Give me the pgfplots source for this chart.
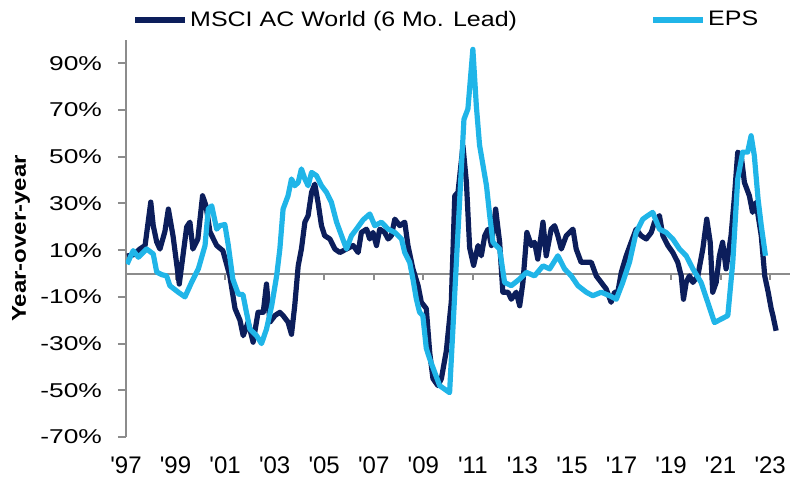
\documentclass[border=0pt]{standalone}
\usepackage{fontspec}
\setmainfont{Liberation Sans}
\newfontfamily\tickfont{Liberation Sans}[FakeStretch=1.32]
\newfontfamily\labelfont{Liberation Sans}[FakeStretch=1.2]
\newfontfamily\legfont{Liberation Sans}[FakeStretch=1.19]
\usepackage{pgfplots}
\usepackage{pgfplotstable}
\pgfplotsset{compat=1.18}

\definecolor{msciblue}{HTML}{0C1E5B}
\definecolor{epsblue}{HTML}{20B5E8}
\definecolor{axisgray}{HTML}{8C8C8C}

% MSCI AC World, year-over-year change, shifted six months ahead
\pgfplotstableread{
year value
1997.04 7.5
1997.29 8
1997.56 10.5
1997.77 12
1998.00 30.6
1998.10 20.5
1998.24 13.5
1998.37 10.5
1998.57 18
1998.71 27.6
1998.90 16
1999.15 -4.5
1999.45 20
1999.58 22
1999.70 10.5
1999.90 14.8
2000.09 33.3
2000.23 29
2000.39 17.8
2000.66 12
2000.91 9.8
2001.19 -1
2001.40 -15
2001.60 -20
2001.73 -26.6
2001.93 -20.8
2002.13 -29.4
2002.33 -16.6
2002.54 -16.6
2002.67 -4.5
2002.81 -20.8
2003.01 -18
2003.21 -16.6
2003.34 -18
2003.54 -20.8
2003.68 -26
2003.81 -13.8
2003.95 3.3
2004.08 10.5
2004.22 22
2004.35 24.8
2004.49 34.8
2004.62 38.3
2004.75 30.5
2004.89 20.5
2005.02 16.2
2005.23 14.8
2005.43 10.5
2005.63 9
2005.90 10.5
2006.17 12
2006.37 9
2006.50 17.6
2006.71 19
2006.84 14.8
2006.97 17.6
2007.11 12
2007.24 19
2007.44 17.6
2007.58 14.8
2007.71 16.2
2007.85 23.3
2008.05 20.5
2008.25 22
2008.38 12
2008.58 2
2008.79 -5.2
2008.92 -12.3
2009.12 -15
2009.26 -34
2009.39 -45
2009.59 -48
2009.73 -45
2009.93 -33
2010.13 -12
2010.27 33.3
2010.40 34.8
2010.60 54.7
2010.74 39
2010.87 11
2011.03 3.5
2011.21 12
2011.34 7.6
2011.48 16.2
2011.61 19
2011.75 12
2011.92 27.6
2012.08 13.4
2012.21 -8
2012.42 -8
2012.55 -11
2012.75 -8
2012.89 -13.8
2013.02 -3.8
2013.18 17.6
2013.36 12
2013.49 13.4
2013.62 6.2
2013.83 22
2013.96 7.6
2014.16 19
2014.30 20.5
2014.43 16.2
2014.57 10.5
2014.77 16.2
2015.04 19
2015.17 10.5
2015.37 4.8
2015.58 4.8
2015.78 4.8
2015.98 -1
2016.18 -3.8
2016.38 -6.6
2016.58 -12.3
2016.72 -8
2016.85 -8
2016.99 0.5
2017.19 7.6
2017.39 13.4
2017.59 19
2017.79 16.2
2018.00 14.8
2018.20 17.6
2018.33 22
2018.53 24.8
2018.67 16.2
2018.87 12
2019.07 9
2019.27 4.8
2019.41 -1
2019.50 -11
2019.61 -3.8
2019.74 -1
2019.88 -3.8
2020.08 -1
2020.28 10.5
2020.44 23.3
2020.58 13.4
2020.68 -8
2020.82 -3.8
2020.95 7.6
2021.08 13.4
2021.22 2
2021.42 16.2
2021.56 33.3
2021.69 52
2021.83 50.5
2021.96 39
2022.16 33.3
2022.29 26.2
2022.43 30.5
2022.64 16.2
2022.78 -1
2022.92 -8
2023.04 -15
2023.11 -18
2023.24 -24.5
}\msci

% Earnings per share, year-over-year change
\pgfplotstableread{
year value
1997.04 4
1997.29 9.8
1997.50 7
1997.83 10.5
1998.10 8.4
1998.24 0.6
1998.45 -0.5
1998.64 -1
1998.77 -5.2
1999.11 -8
1999.38 -10
1999.65 -3.7
1999.92 2
2000.19 12
2000.32 27.6
2000.46 29
2000.66 19
2000.79 20.5
2000.99 21
2001.13 12
2001.31 -2.3
2001.53 -8.8
2001.72 -9
2001.85 -16
2002.00 -23.8
2002.27 -26.6
2002.47 -30
2002.67 -23.8
2002.88 -13.8
2003.08 -1
2003.21 10.5
2003.34 27.6
2003.54 33.3
2003.68 40.5
2003.81 37.6
2003.95 39
2004.08 44.8
2004.22 40.5
2004.35 37.6
2004.49 43.3
2004.69 41.9
2004.89 37.6
2005.09 34.8
2005.29 30.5
2005.50 22
2005.70 16.2
2005.90 10.5
2006.10 16.2
2006.30 19
2006.57 23
2006.84 25.5
2007.04 20.5
2007.31 22
2007.58 19
2007.85 17.6
2008.12 14.8
2008.25 9
2008.45 4.8
2008.58 -2.3
2008.72 -11
2008.85 -16.6
2008.98 -18
2009.12 -32
2009.26 -36.6
2009.46 -42.3
2009.66 -48
2009.86 -49.5
2010.06 -51
2010.35 8
2010.64 66
2010.80 70.5
2011.00 96
2011.14 71.8
2011.27 55
2011.55 37.6
2011.68 24.8
2011.81 13.4
2012.08 10.5
2012.28 -3.8
2012.55 -5.2
2012.89 -2.3
2013.16 0.5
2013.49 -1
2013.83 3.3
2014.10 2
2014.43 7.6
2014.70 2
2014.97 -1
2015.24 -5.2
2015.58 -8
2015.84 -9.5
2016.18 -8
2016.52 -9.5
2016.79 -11
2017.05 -3.8
2017.32 4.8
2017.59 17.6
2017.86 23.3
2018.06 24.8
2018.26 26.2
2018.53 19
2018.80 17.6
2019.07 14.8
2019.34 10.5
2019.61 7.6
2019.88 2
2020.21 -3.8
2020.48 -12.3
2020.75 -21
2021.02 -19.5
2021.29 -18
2021.49 4.8
2021.69 40.5
2021.89 52
2022.09 52
2022.23 59
2022.36 50.5
2022.51 32
2022.64 20.5
2022.81 7.6
}\eps

\begin{document}
\begin{tikzpicture}
\useasboundingbox (-63pt,-21pt) rectangle (332.5pt,218.5pt);
\begin{axis}[
  at={(0pt,0pt)}, anchor=south west,
  scale only axis,
  width=332pt, height=198.5pt,
  xmin=1997, xmax=2023.8,
  ymin=-70, ymax=100,
  axis y line=left,
  axis x line=bottom,
  x axis line style={draw=none},
  y axis line style={-, draw=axisgray, line width=1pt},
  ytick={-70,-50,...,90},
  yticklabels={-70\%,-50\%,-30\%,-10\%,10\%,30\%,50\%,70\%,90\%},
  xtick={1997,1999,...,2023},
  xticklabels={\textquotesingle97,\textquotesingle99,\textquotesingle01,\textquotesingle03,\textquotesingle05,\textquotesingle07,\textquotesingle09,\textquotesingle11,\textquotesingle13,\textquotesingle15,\textquotesingle17,\textquotesingle19,\textquotesingle21,\textquotesingle23},
  major x tick style={draw=none},
  major y tick style={draw=axisgray, line width=1pt},
  tick align=outside,
  major tick length=4pt,
  yticklabel style={font=\tickfont\fontsize{10}{12}\selectfont, xshift=-4.5pt},
  xticklabel style={font=\fontsize{12}{14}\selectfont, anchor=north, yshift=-2.5pt},
  legend columns=2,
  legend style={
    draw=none, fill=none, inner sep=0pt, outer sep=0pt,
    at={(axis description cs:0.0098,1.0504)}, anchor=west,
    font=\legfont\fontsize{10.5}{12}\selectfont,
    nodes={inner sep=1.25pt},
    /tikz/every even column/.append style={column sep=65.5pt},
  },
  legend image code/.code={\draw[#1] (0pt,0pt) -- (25pt,0pt);},
  every axis plot/.append style={line width=2.6pt, line join=round},
]
% zero line with its year ticks
\draw[axisgray, line width=1pt] (axis cs:1997,0) -- (axis cs:2023.8,0);
\pgfplotsinvokeforeach{1999,2001,...,2023}{
  \draw[axisgray, line width=1pt] (axis cs:#1,0) -- ++(0pt,-3pt);
}
\addplot[msciblue] table[x=year, y=value] {\msci};
\addlegendentry{MSCI AC World (6 Mo. Lead)}
\addplot[epsblue] table[x=year, y=value] {\eps};
\addlegendentry{EPS}
\end{axis}
\node[rotate=90, font=\labelfont\bfseries\fontsize{10}{12}\selectfont] at (-52.5pt,99.25pt) {Year-over-year};
\end{tikzpicture}
\end{document}
